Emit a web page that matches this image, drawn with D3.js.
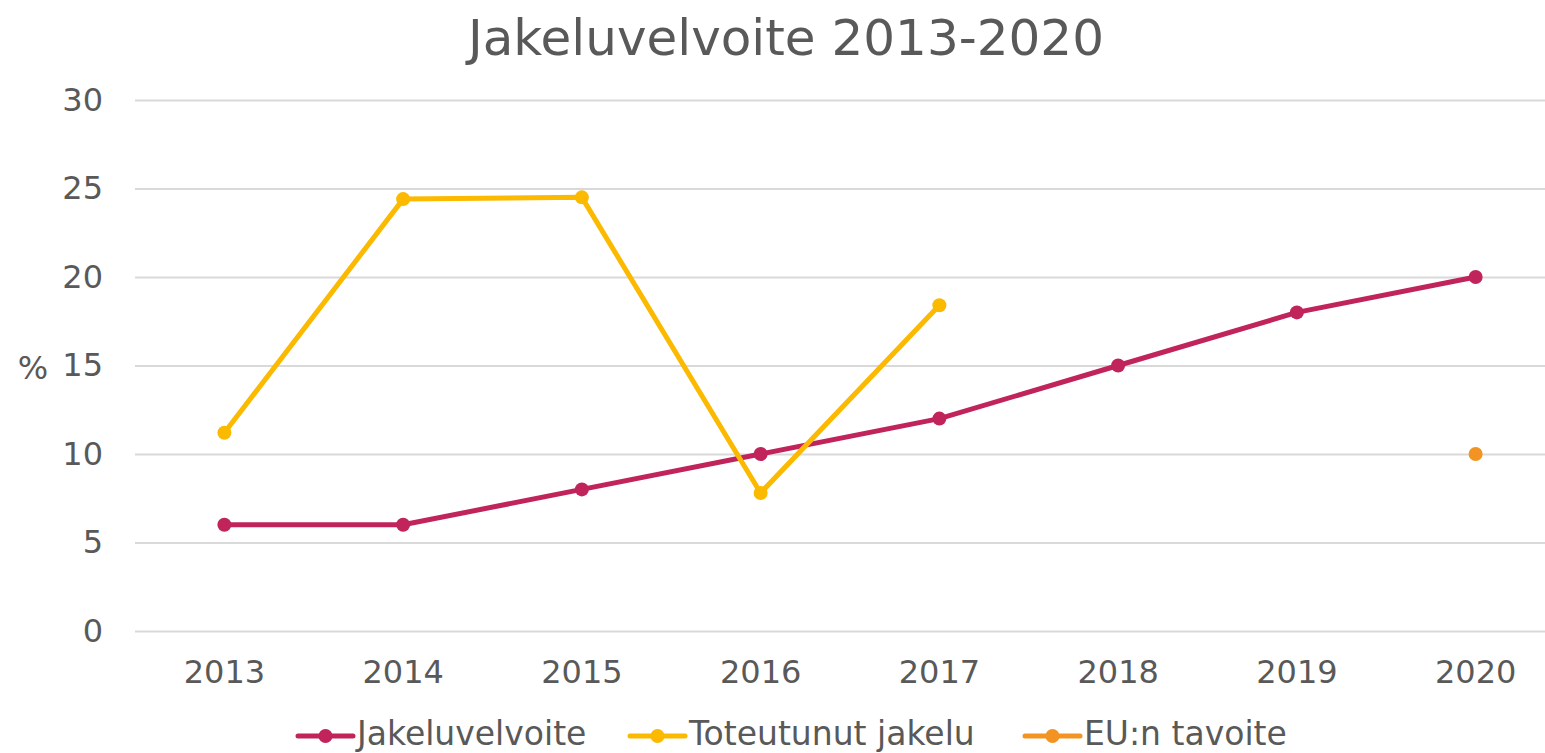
<!DOCTYPE html>
<html>
<head>
<meta charset="utf-8">
<script src="https://cdn.jsdelivr.net/npm/d3@7"></script>
<style>
  body { margin: 0; background: #fff; }
  svg text { font-family: "DejaVu Sans", Verdana, sans-serif; fill: #595959; }
</style>
</head>
<body>
<div id="chart"></div>
<script>
const years = [2013, 2014, 2015, 2016, 2017, 2018, 2019, 2020];
const velvoite = [6, 6, 8, 10, 12, 15, 18, 20];
const toteutunut = [11.2, 24.4, 24.5, 7.8, 18.4, null, null, null];
const euTavoite = [null, null, null, null, null, null, null, 10];
const yTicks = [0, 5, 10, 15, 20, 25, 30];

const series = [
  { name: "Jakeluvelvoite", values: velvoite, color: "#c0245a", line: true },
  { name: "Toteutunut jakelu", values: toteutunut, color: "#fbb900", line: true },
  { name: "EU:n tavoite", values: euTavoite, color: "#f39322", line: false }
];

const W = 1545, H = 753;
const margin = { top: 100, right: -20, bottom: 122, left: 135 };
const width = W - margin.left - margin.right,
      height = H - margin.top - margin.bottom;

const svg = d3.select("#chart")
  .append("svg")
    .attr("width", W)
    .attr("height", H);

// title
svg.append("text")
  .attr("x", 786)
  .attr("y", 55)
  .attr("text-anchor", "middle")
  .attr("font-size", "50px")
  .text("Jakeluvelvoite 2013-2020");

const g = svg.append("g")
  .attr("transform", `translate(${margin.left},${margin.top})`);

// scales
const x = d3.scaleBand()
  .domain(years)
  .range([0, width]);

const y = d3.scaleLinear()
  .domain([0, 30])
  .range([height, 0]);

// grid + y axis
g.append("g")
  .call(d3.axisLeft(y).tickValues(yTicks).tickSize(-W).tickPadding(32))
  .call(a => a.selectAll("line").style("stroke", "#d9d9d9").style("stroke-width", 2))
  .call(a => a.selectAll("text").attr("font-size", "32px").style("fill", "#595959")
    .attr("font-family", "DejaVu Sans, sans-serif"))
  .call(a => a.selectAll(".domain").remove());

// x axis
g.append("g")
  .attr("transform", `translate(0,${height})`)
  .call(d3.axisBottom(x).tickSize(0).tickPadding(29))
  .call(a => a.selectAll("text").attr("font-size", "32px").style("fill", "#595959")
    .attr("font-family", "DejaVu Sans, sans-serif"))
  .call(a => a.selectAll(".domain").remove());

// y label
svg.append("text")
  .attr("x", 33)
  .attr("y", 379)
  .attr("text-anchor", "middle")
  .attr("font-size", "32px")
  .text("%");

const cx = i => x(years[i]) + x.bandwidth() / 2;

series.forEach(s => {
  const pts = s.values.map((v, i) => ({ i, v })).filter(d => d.v != null);
  if (s.line) {
    g.append("path")
      .datum(pts)
      .attr("fill", "none")
      .attr("stroke", s.color)
      .attr("stroke-width", 5)
      .attr("stroke-linejoin", "round")
      .attr("d", d3.line().x(d => cx(d.i)).y(d => y(d.v)));
  }
  g.selectAll(null)
    .data(pts)
    .enter()
    .append("circle")
      .attr("cx", d => cx(d.i))
      .attr("cy", d => y(d.v))
      .attr("r", 7)
      .attr("fill", s.color);
});

// legend
const legendX = [298, 630, 1025];
const legend = svg.append("g").attr("transform", "translate(0,736)");
series.forEach((s, i) => {
  const lg = legend.append("g").attr("transform", `translate(${legendX[i]},0)`);
  lg.append("line")
    .attr("x1", 0).attr("x2", 55)
    .attr("stroke", s.color)
    .attr("stroke-width", 5)
    .attr("stroke-linecap", "round");
  lg.append("circle").attr("cx", 27.5).attr("r", 7).attr("fill", s.color);
  lg.append("text")
    .attr("x", 59)
    .attr("y", 9)
    .attr("font-size", "33px")
    .text(s.name);
});
</script>
</body>
</html>
